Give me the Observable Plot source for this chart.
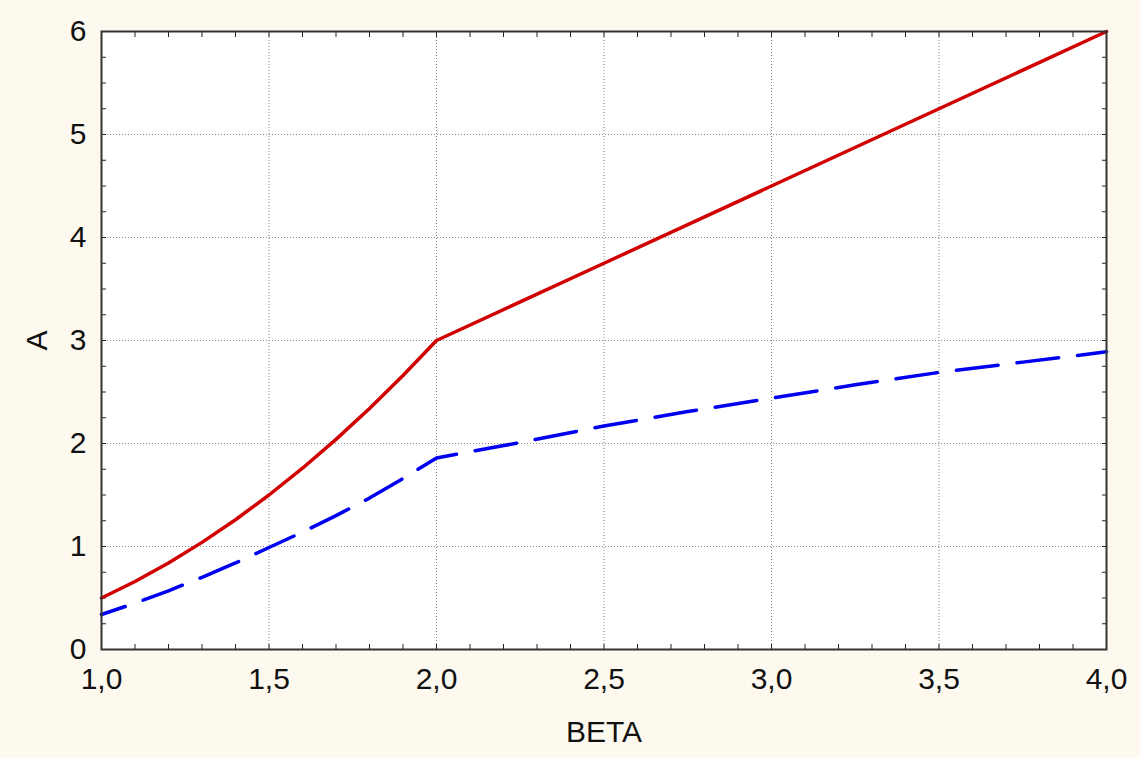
<!DOCTYPE html>
<html>
<head>
<meta charset="utf-8">
<script src="https://cdn.jsdelivr.net/npm/d3@7"></script>
<script src="https://cdn.jsdelivr.net/npm/@observablehq/plot@0.6"></script>
<style>
  html, body { margin: 0; padding: 0; background: #fdf9ef; }
  #chart { width: 1140px; height: 758px; }
  #chart svg text { font-family: 'Liberation Sans', Arial, sans-serif; fill: #111; }
</style>
</head>
<body>
<div id="chart"></div>
<script>
// Red solid series (BETA, A)
const redBeta = [1.0, 1.1, 1.2, 1.3, 1.4, 1.5, 1.6, 1.7, 1.8, 1.9, 2.0, 2.5, 3.0, 3.5, 4.0];
const redA    = [0.50, 0.66, 0.84, 1.04, 1.26, 1.50, 1.76, 2.04, 2.34, 2.66, 3.00, 3.75, 4.50, 5.25, 6.00];
// Blue dashed series (BETA, A)
const blueBeta = [1.0, 1.1, 1.2, 1.3, 1.4, 1.5, 1.6, 1.7, 1.8, 1.9, 2.0, 2.25, 2.5, 2.75, 3.0, 3.25, 3.5, 3.75, 4.0];
const blueA    = [0.34, 0.45, 0.57, 0.70, 0.84, 0.99, 1.14, 1.30, 1.47, 1.66, 1.86, 2.01, 2.17, 2.31, 2.44, 2.57, 2.69, 2.79, 2.89];
// Ticks
const xMajor = [1.0, 1.5, 2.0, 2.5, 3.0, 3.5, 4.0];
const xMinor = [1.0,1.1,1.2,1.3,1.4,1.5,1.6,1.7,1.8,1.9,2.0,2.1,2.2,2.3,2.4,2.5,2.6,2.7,2.8,2.9,3.0,3.1,3.2,3.3,3.4,3.5,3.6,3.7,3.8,3.9,4.0];
const yMajor = [0, 1, 2, 3, 4, 5, 6];
const yMinor = [0,0.25,0.5,0.75,1,1.25,1.5,1.75,2,2.25,2.5,2.75,3,3.25,3.5,3.75,4,4.25,4.5,4.75,5,5.25,5.5,5.75,6];

const red = redBeta.map((b, i) => ({beta: b, a: redA[i]}));
const blue = blueBeta.map((b, i) => ({beta: b, a: blueA[i]}));
const fmt = d => d3.format(".1f")(d).replace(".", ",");

const chart = Plot.plot({
  width: 1140,
  height: 758,
  marginLeft: 101,
  marginRight: 34,
  marginTop: 31,
  marginBottom: 109,
  style: {background: "#fdf9ef", fontFamily: "'Liberation Sans', Arial, sans-serif", fontSize: "30px", color: "#111"},
  x: {domain: [1, 4]},
  y: {domain: [0, 6]},
  marks: [
    Plot.frame({fill: "white", stroke: "none"}),
    Plot.gridX(xMajor.slice(1, -1), {stroke: "#8a8a8a", strokeOpacity: 1, strokeDasharray: "1,2"}),
    Plot.gridY(yMajor.slice(1, -1), {stroke: "#8a8a8a", strokeOpacity: 1, strokeDasharray: "1,2"}),
    Plot.axisX(xMinor, {anchor: "bottom", tickSize: -5, text: null, label: null, stroke: "#222"}),
    Plot.axisX(xMinor, {anchor: "top", tickSize: -5, text: null, label: null, stroke: "#222"}),
    Plot.axisY(yMinor, {anchor: "left", tickSize: -5, text: null, label: null, stroke: "#222"}),
    Plot.axisY(yMinor, {anchor: "right", tickSize: -5, text: null, label: null, stroke: "#222"}),
    Plot.axisX(xMajor, {anchor: "bottom", tickSize: 0, tickPadding: 18, tickFormat: fmt, fontSize: 30,
      label: "BETA", labelAnchor: "center", labelArrow: "none", labelOffset: 92}),
    Plot.axisY(yMajor, {anchor: "left", tickSize: 0, tickPadding: 15, tickFormat: d => String(d), fontSize: 30,
      label: "A", labelAnchor: "center", labelArrow: "none", labelOffset: 76}),
    Plot.line(blue, {x: "beta", y: "a", stroke: "#0000f0", strokeWidth: 3.5, strokeDasharray: "42,19", strokeDashoffset: 17}),
    Plot.line(red, {x: "beta", y: "a", stroke: "#d00000", strokeWidth: 3.5}),
    Plot.frame({stroke: "#333", strokeWidth: 2})
  ]
});
document.getElementById("chart").append(chart);
</script>
</body>
</html>
